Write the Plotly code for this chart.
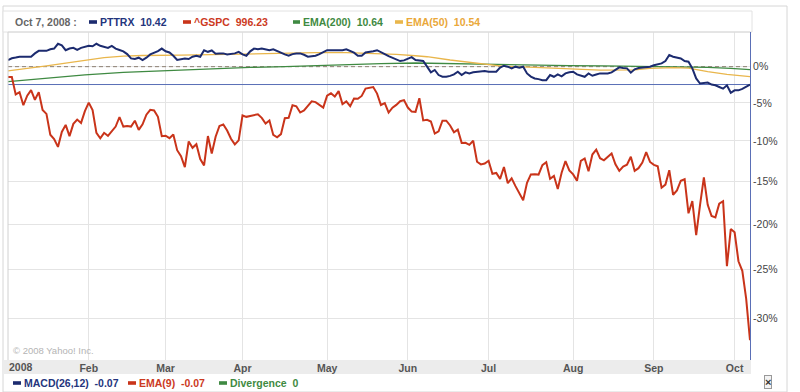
import math
import pandas as pd
import plotly.graph_objects as go

# ---------------- data ----------------
HOLIDAYS = ["2008-01-21", "2008-02-18", "2008-03-21", "2008-05-26", "2008-07-04", "2008-09-01"]
DATES = [d.strftime("%Y-%m-%d") for d in pd.bdate_range("2008-01-02", "2008-10-07")
         if d.strftime("%Y-%m-%d") not in HOLIDAYS]

GSPC_BASE = 1468.36  # close of 2007-12-31
GSPC_CLOSE = [
    # Jan
    1447.16, 1447.16, 1411.63, 1416.18, 1390.19, 1409.13, 1420.33, 1401.02, 1416.25, 1380.95,
    1373.20, 1333.25, 1325.19, 1310.50, 1338.60, 1352.07, 1330.61, 1353.96, 1362.30, 1355.81, 1378.55,
    # Feb
    1395.42, 1380.82, 1336.64, 1326.45, 1336.91, 1331.29, 1339.13, 1348.86, 1367.21, 1348.86,
    1349.99, 1348.78, 1360.03, 1342.53, 1353.11, 1371.80, 1381.29, 1380.02, 1367.68, 1330.63,
    # Mar
    1331.34, 1326.75, 1333.70, 1304.34, 1293.37, 1273.37, 1320.65, 1308.77, 1315.48, 1288.14,
    1276.60, 1330.74, 1298.42, 1329.51, 1349.88, 1352.99, 1341.13, 1325.76, 1315.22, 1322.70,
    # Apr
    1370.18, 1367.53, 1369.31, 1370.40, 1372.54, 1365.54, 1354.49, 1360.55, 1332.83, 1328.32, 1334.43,
    1364.71, 1365.56, 1390.33, 1388.17, 1375.94, 1379.93, 1388.82, 1397.84, 1396.37, 1390.94, 1385.59,
    # May
    1409.34, 1413.90, 1407.49, 1418.26, 1392.57, 1397.68, 1388.28, 1403.58, 1403.04, 1408.66, 1423.57,
    1425.35, 1426.63, 1413.40, 1390.71, 1394.35, 1375.93, 1385.35, 1390.84, 1398.26, 1400.38,
    # Jun
    1385.67, 1377.65, 1377.20, 1404.05, 1360.68, 1361.76, 1358.44, 1335.49, 1339.87, 1360.03, 1360.14,
    1350.93, 1337.81, 1342.83, 1317.93, 1318.00, 1314.29, 1321.97, 1283.15, 1278.38, 1280.00,
    # Jul
    1284.91, 1261.52, 1262.90, 1252.31, 1273.70, 1244.69, 1253.39, 1239.49, 1228.30, 1214.91, 1245.36,
    1260.32, 1260.68, 1260.00, 1277.00, 1282.19, 1252.54, 1257.76, 1234.37, 1263.20, 1284.26, 1267.38,
    # Aug
    1260.31, 1249.01, 1284.88, 1289.19, 1266.07, 1296.32, 1305.32, 1289.59, 1285.83, 1292.93, 1298.20,
    1278.60, 1266.69, 1274.54, 1277.72, 1292.20, 1266.84, 1271.51, 1281.66, 1300.68, 1282.83,
    # Sep
    1277.58, 1274.98, 1236.83, 1242.31, 1267.79, 1224.51, 1232.04, 1249.05, 1251.70, 1192.70, 1213.60,
    1156.39, 1206.51, 1255.08, 1207.09, 1188.22, 1185.87, 1209.18, 1213.27, 1106.42, 1166.36,
    # Oct
    1161.06, 1114.28, 1099.23, 1056.89, 996.23,
]

# PTTRX, % change since start of year
PTTRX_PCT = [
    0.95, 1.2, 1.3, 1.42, 1.42, 1.42, 1.42, 1.9, 2.27, 2.27,
    2.27, 2.5, 2.6, 3.3, 3.07, 2.36, 2.6, 2.7, 2.41, 2.7,
    2.9, 3.0, 2.93, 3.3, 3.0, 2.8, 2.7, 3.0, 2.6, 2.4,
    2.2, 1.8, 1.18, 1.09, 1.28, 0.95, 1.28, 1.75, 2.0, 2.22,
    2.6, 2.2, 2.03, 1.56, 0.95, 1.1, 1.18, 1.09, 1.42, 1.56,
    1.42, 2.36, 2.13, 2.32, 1.84, 1.9, 1.9, 1.75, 1.8, 1.9,
    2.13, 1.75, 1.56, 2.2, 2.6, 2.5, 2.6, 2.5, 2.36, 2.5,
    2.22, 2.0, 1.75, 1.56, 1.8, 1.9, 1.9, 1.7, 1.42, 1.5,
    1.56, 1.8, 2.03, 2.36, 2.36, 2.36, 2.36, 2.36, 2.5, 2.3,
    2.0, 1.56, 1.56, 2.03, 2.1, 2.2, 2.36, 2.03, 1.8, 1.5,
    1.28, 0.95, 0.8, 0.9, 1.09, 1.37, 0.95, 0.85, 0.8, 0.0,
    -0.8, -0.47, -1.18, -1.42, -1.42, -1.3, -1.09, -0.71, -1.18, -0.8,
    -0.95, -0.8, -0.71, -0.61, -0.61, -0.71, -0.71, -0.71, -0.14, 0.14,
    0.0, -0.24, 0.0, -0.14, 0.0, -0.95, -1.4, -1.66, -1.75, -1.89,
    -1.89, -1.18, -1.42, -1.09, -1.37, -0.95, -0.8, -0.71, -1.09, -1.3,
    -1.42, -0.95, -1.28, -1.1, -0.95, -0.95, -0.95, -0.8, -0.47, -0.1,
    -0.2, -0.24, -0.85, -0.38, -0.2, -0.14, -0.05, 0.0, 0.2, 0.33,
    0.47, 0.8, 1.66, 1.42, 1.3, 1.18, 0.8, 0.71, -0.24, -1.66,
    -2.36, -2.3, -2.22, -2.5, -2.6, -2.84, -3.07, -2.6, -3.64, -3.3,
    -3.3, -3.1, -2.84, -2.5,
]

EMA200_IDX = [0, 10, 20, 30, 41, 52, 63, 72, 80, 88, 97, 106, 115, 124, 129, 137, 146, 155, 163, 172, 182, 188, 193]
EMA200_PCT = [-2.1, -1.6, -1.15, -0.8, -0.57, -0.3, -0.1, 0.0, 0.14, 0.33, 0.43, 0.52, 0.43, 0.33, 0.24,
              0.14, 0.14, 0.1, 0.05, 0.0, -0.1, -0.25, -0.42]

EMA50_IDX = [0, 5, 10, 15, 20, 25, 30, 35, 45, 55, 63, 72, 80, 88, 97, 101, 106, 109, 115, 122, 129,
             137, 146, 154, 163, 167, 173, 177, 182, 187, 193]
EMA50_PCT = [-0.6, -0.3, 0.1, 0.5, 0.9, 1.3, 1.5, 1.6, 1.65, 1.75, 1.85, 2.0, 2.0, 2.0, 1.9, 1.75, 1.56,
             1.42, 0.95, 0.47, 0.05, -0.1, -0.35, -0.5, -0.45, -0.24, -0.14, -0.2, -0.71, -1.09, -1.4]

MONTH_LABELS = ["Feb", "Mar", "Apr", "May", "Jun", "Jul", "Aug", "Sep", "Oct"]
Y_TICK_PCT = [0, -5, -10, -15, -20, -25, -30]
Y_TICK_TEXT = ["0%", "-5%", "-10%", "-15%", "-20%", "-25%", "-30%"]

HEADER_DATE = "Oct 7, 2008 :"
TOP_LEGEND = [("PTTRX", "10.42"), ("^GSPC", "996.23"), ("EMA(200)", "10.64"), ("EMA(50)", "10.54")]
BOTTOM_LEGEND = [("MACD(26,12)", "-0.07"), ("EMA(9)", "-0.07"), ("Divergence", "0")]

# ---------------- styling ----------------
NAVY = "#1c2b6f"
RED = "#c9341a"
GREEN = "#3f8a42"
GOLD = "#e9b64c"
FONT = "Liberation Sans, Arial, sans-serif"

W, H = 800, 392
L, R, T, B = 8, 50, 32, 32
PW, PH = W - L - R, H - T - B


def px(x):
    return (x - L) / PW


def py(y):
    return (H - B - y) / PH


gspc_ratio = [c / GSPC_BASE for c in GSPC_CLOSE]
pttrx_ratio = [1 + p / 100 for p in PTTRX_PCT]
ema200_x = [DATES[i] for i in EMA200_IDX]
ema200_ratio = [1 + p / 100 for p in EMA200_PCT]
ema50_x = [DATES[i] for i in EMA50_IDX]
ema50_ratio = [1 + p / 100 for p in EMA50_PCT]

month_ticks = []
for m in range(2, 11):
    month_ticks.append(next(d for d in DATES if int(d[5:7]) == m))

fig = go.Figure()
# last-value line for PTTRX
fig.add_trace(go.Scatter(x=[DATES[0], DATES[-1]], y=[pttrx_ratio[-1]] * 2, mode="lines",
                         line=dict(color="#5a6fb6", width=1), hoverinfo="skip"))
# 0% baseline dashed
fig.add_trace(go.Scatter(x=[DATES[0], DATES[-1]], y=[1.0, 1.0], mode="lines",
                         line=dict(color="#8c7f72", width=1, dash="4px,3px"), hoverinfo="skip"))
fig.add_trace(go.Scatter(x=ema200_x, y=ema200_ratio, mode="lines", line=dict(color=GREEN, width=1.3)))
fig.add_trace(go.Scatter(x=ema50_x, y=ema50_ratio, mode="lines", line=dict(color=GOLD, width=1.3)))
fig.add_trace(go.Scatter(x=DATES, y=gspc_ratio, mode="lines", line=dict(color=RED, width=2)))
fig.add_trace(go.Scatter(x=DATES, y=pttrx_ratio, mode="lines", line=dict(color=NAVY, width=2)))

y_top = 1.0504
y_bot = 0.6597

fig.update_layout(
    width=W, height=H,
    margin=dict(l=L, r=R, t=T, b=B, pad=0),
    paper_bgcolor="white", plot_bgcolor="white",
    showlegend=False,
    font=dict(family=FONT, size=10.5, color="#444"),
    xaxis=dict(type="category", categoryorder="array", categoryarray=DATES,
               range=[0, len(DATES) - 1],
               tickvals=month_ticks, ticktext=MONTH_LABELS,
               showgrid=True, gridcolor="#e4e4e4", gridwidth=1,
               ticks="", showline=False, zeroline=False,
               tickfont=dict(family=FONT, size=10.5, color="#555", weight="bold")),
    yaxis=dict(type="log", range=[math.log10(y_bot), math.log10(y_top)], side="right",
               tickvals=[1 + p / 100 for p in Y_TICK_PCT], ticktext=Y_TICK_TEXT,
               showgrid=True, gridcolor="#e4e4e4", gridwidth=1,
               ticks="", showline=True, linecolor="#5a6fb6", linewidth=1, zeroline=False,
               tickfont=dict(family=FONT, size=10.5, color="#444")),
)

shapes = []
# outer frame
shapes.append(dict(type="rect", xref="paper", yref="paper", x0=px(3), x1=px(787), y0=py(6), y1=py(392),
                   line=dict(color="#d6d6d6", width=1), fillcolor="rgba(0,0,0,0)", layer="below"))
# header box
shapes.append(dict(type="rect", xref="paper", yref="paper", x0=px(3), x1=px(752), y0=py(11), y1=py(32),
                   line=dict(color="#e2e2e2", width=1), fillcolor="white", layer="below"))
# x-axis band
shapes.append(dict(type="rect", xref="paper", yref="paper", x0=px(3), x1=px(751), y0=py(360), y1=py(374),
                   line=dict(width=0), fillcolor="#ececec", layer="below"))
# plot left edge and top edge
shapes.append(dict(type="line", xref="paper", yref="paper", x0=0, x1=0, y0=0, y1=1,
                   line=dict(color="#d0d0d0", width=1)))
shapes.append(dict(type="line", xref="paper", yref="paper", x0=0, x1=1, y0=1, y1=1,
                   line=dict(color="#d8d8d8", width=1)))

annotations = []


def text(x, y, s, color, bold=True, size=10.5, anchor="left"):
    annotations.append(dict(xref="paper", yref="paper", x=px(x), y=py(y), text=s, showarrow=False,
                            xanchor=anchor, yanchor="middle",
                            font=dict(family=FONT, size=size, color=color,
                                      weight="bold" if bold else "normal")))


def marker(x0, x1, y, color):
    shapes.append(dict(type="rect", xref="paper", yref="paper", x0=px(x0), x1=px(x1),
                       y0=py(y - 1.8), y1=py(y + 1.8), line=dict(width=0), fillcolor=color))


# top legend
text(13, 22, HEADER_DATE, "#666")
top_pos = [(89, 97, 98), (183, 191, 192), (293, 300, 301), (395, 403, 404)]
top_cols = [(NAVY, "#24357d"), (RED, "#cc3a1e"), (GREEN, "#3f8a42"), (GOLD, "#eaa83a")]
for (name, val), (m0, m1, tx), (mc, tc) in zip(TOP_LEGEND, top_pos, top_cols):
    marker(m0, m1, 22, mc)
    text(tx, 22, f"{name}  {val}", tc)

# bottom legend
bot_pos = [(13, 21, 22), (128, 136, 137), (219, 227, 228)]
bot_cols = [(NAVY, "#24357d"), (RED, "#cc3a1e"), (GREEN, "#3f8a42")]
for (name, val), (m0, m1, tx), (mc, tc) in zip(BOTTOM_LEGEND, bot_pos, bot_cols):
    marker(m0, m1, 383, mc)
    text(tx, 383, f"{name}  {val}", tc)

# year label, copyright, close box
text(7, 367, "2008", "#555")
text(11, 350, "© 2008 Yahoo! Inc.", "#b4b4b4", bold=False, size=9.5)
annotations.append(dict(xref="paper", yref="paper", x=px(768), y=py(382), text="×", showarrow=False,
                        xanchor="center", yanchor="middle", bordercolor="#999", borderwidth=1,
                        borderpad=0, bgcolor="#f3f3f3",
                        font=dict(family=FONT, size=11, color="#333", weight="bold")))

fig.update_layout(shapes=shapes, annotations=annotations)
fig.write_html("out.html", config={"displayModeBar": False},
               post_script="document.body.style.margin='0';document.body.style.overflow='hidden';")
